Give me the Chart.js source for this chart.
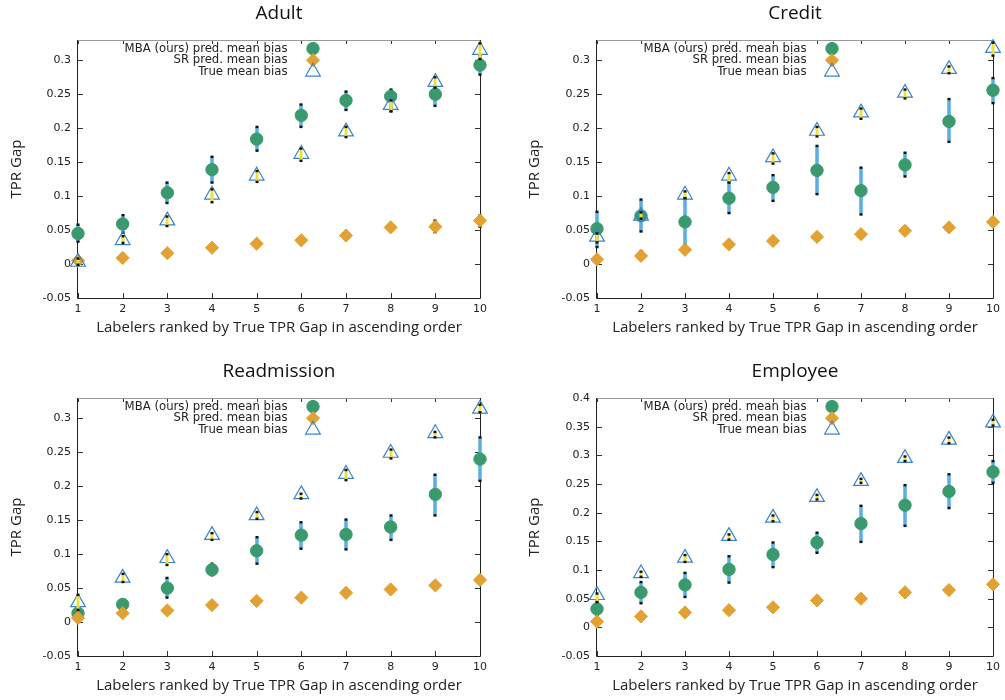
<!DOCTYPE html>
<html><head><meta charset="utf-8">
<script src="https://cdn.jsdelivr.net/npm/chart.js@4/dist/chart.umd.min.js"></script>
<style>
html,body{margin:0;padding:0;background:#fff;}
#wrap{position:relative;width:1005px;height:700px;overflow:hidden;background:#fff;}
.c{position:absolute;}
canvas{display:block;}
</style></head><body>
<div id="wrap">
<div class="c" style="left:0;top:0"><canvas id="c0" width="500" height="350"></canvas></div>
<div class="c" style="left:500px;top:0"><canvas id="c1" width="505" height="350"></canvas></div>
<div class="c" style="left:0;top:350px"><canvas id="c2" width="500" height="350"></canvas></div>
<div class="c" style="left:500px;top:350px"><canvas id="c3" width="505" height="350"></canvas></div>
</div>
<script>
// ---------------- data ----------------
const labelerRanks = [1, 2, 3, 4, 5, 6, 7, 8, 9, 10];
const yTicksLow = [-0.05, 0, 0.05, 0.1, 0.15, 0.2, 0.25, 0.3];
const yTicksHigh = [-0.05, 0, 0.05, 0.1, 0.15, 0.2, 0.25, 0.3, 0.35, 0.4];
const seriesNames = ['MBA (ours) pred. mean bias', 'SR pred. mean bias', 'True mean bias'];
const panelTitles = ['Adult', 'Credit', 'Readmission', 'Employee'];
const xAxisTitle = 'Labelers ranked by True TPR Gap in ascending order';
const yAxisTitle = 'TPR Gap';

// Adult
const mbaAdult   = [0.045, 0.059, 0.105, 0.139, 0.184, 0.219, 0.241, 0.247, 0.250, 0.293];
const mbaAdultLo = [0.033, 0.046, 0.090, 0.120, 0.167, 0.202, 0.227, 0.225, 0.233, 0.279];
const mbaAdultHi = [0.058, 0.072, 0.120, 0.158, 0.202, 0.235, 0.254, 0.257, 0.261, 0.308];
const srAdult    = [0.005, 0.009, 0.016, 0.024, 0.030, 0.035, 0.042, 0.054, 0.055, 0.064];
const srAdultLo  = [0.000, 0.006, 0.013, 0.021, 0.027, 0.032, 0.039, 0.051, 0.047, 0.055];
const srAdultHi  = [0.008, 0.015, 0.019, 0.027, 0.033, 0.038, 0.045, 0.057, 0.064, 0.072];
const trueAdult   = [0.003, 0.035, 0.064, 0.102, 0.130, 0.162, 0.195, 0.234, 0.268, 0.315];
const trueAdultLo = [-0.001, 0.031, 0.056, 0.091, 0.121, 0.152, 0.187, 0.225, 0.260, 0.302];
const trueAdultHi = [0.008, 0.041, 0.070, 0.110, 0.137, 0.170, 0.202, 0.241, 0.275, 0.325];

// Credit
const mbaCredit   = [0.052, 0.071, 0.062, 0.097, 0.113, 0.138, 0.108, 0.146, 0.210, 0.256];
const mbaCreditLo = [0.025, 0.048, 0.028, 0.075, 0.093, 0.103, 0.073, 0.129, 0.180, 0.237];
const mbaCreditHi = [0.077, 0.095, 0.098, 0.121, 0.131, 0.174, 0.142, 0.164, 0.243, 0.274];
const srCredit    = [0.007, 0.012, 0.021, 0.029, 0.034, 0.040, 0.044, 0.049, 0.054, 0.062];
const srCreditLo  = [0.004, 0.009, 0.018, 0.026, 0.031, 0.037, 0.041, 0.046, 0.051, 0.059];
const srCreditHi  = [0.010, 0.019, 0.024, 0.032, 0.037, 0.043, 0.047, 0.052, 0.057, 0.065];
const trueCredit   = [0.040, 0.071, 0.102, 0.130, 0.157, 0.196, 0.223, 0.252, 0.287, 0.318];
const trueCreditLo = [0.032, 0.067, 0.097, 0.120, 0.148, 0.188, 0.214, 0.244, 0.281, 0.307];
const trueCreditHi = [0.045, 0.076, 0.107, 0.134, 0.163, 0.202, 0.229, 0.257, 0.291, 0.326];

// Readmission
const mbaReadm   = [0.013, 0.026, 0.050, 0.077, 0.105, 0.128, 0.129, 0.140, 0.188, 0.240];
const mbaReadmLo = [0.004, 0.022, 0.036, 0.069, 0.086, 0.108, 0.107, 0.121, 0.157, 0.208];
const mbaReadmHi = [0.020, 0.030, 0.065, 0.086, 0.125, 0.147, 0.151, 0.157, 0.217, 0.272];
const srReadm    = [0.006, 0.013, 0.017, 0.025, 0.031, 0.036, 0.043, 0.048, 0.054, 0.062];
const srReadmLo  = [0.003, 0.010, 0.014, 0.022, 0.028, 0.033, 0.040, 0.045, 0.051, 0.059];
const srReadmHi  = [0.009, 0.016, 0.020, 0.028, 0.034, 0.039, 0.046, 0.051, 0.057, 0.065];
const trueReadm   = [0.029, 0.065, 0.094, 0.128, 0.157, 0.188, 0.218, 0.249, 0.278, 0.314];
const trueReadmLo = [0.018, 0.059, 0.084, 0.121, 0.152, 0.182, 0.209, 0.241, 0.272, 0.309];
const trueReadmHi = [0.040, 0.071, 0.100, 0.131, 0.162, 0.189, 0.224, 0.254, 0.280, 0.320];

// Employee
const mbaEmpl   = [0.032, 0.061, 0.074, 0.101, 0.127, 0.148, 0.181, 0.213, 0.237, 0.271];
const mbaEmplLo = [0.019, 0.042, 0.053, 0.078, 0.105, 0.130, 0.149, 0.177, 0.208, 0.252];
const mbaEmplHi = [0.045, 0.079, 0.095, 0.124, 0.148, 0.165, 0.212, 0.248, 0.267, 0.290];
const srEmpl    = [0.010, 0.019, 0.026, 0.030, 0.035, 0.047, 0.050, 0.061, 0.065, 0.075];
const srEmplLo  = [0.007, 0.016, 0.023, 0.027, 0.032, 0.044, 0.047, 0.058, 0.062, 0.072];
const srEmplHi  = [0.013, 0.022, 0.029, 0.033, 0.038, 0.050, 0.053, 0.064, 0.068, 0.078];
const trueEmpl   = [0.056, 0.094, 0.121, 0.159, 0.191, 0.227, 0.255, 0.295, 0.327, 0.357];
const trueEmplLo = [0.044, 0.088, 0.114, 0.153, 0.185, 0.223, 0.252, 0.290, 0.321, 0.352];
const trueEmplHi = [0.059, 0.097, 0.126, 0.162, 0.195, 0.231, 0.259, 0.298, 0.331, 0.362];

// ---------------- style ----------------
const GREEN = '#3a9a6e', ORANGE = '#e2a233', TRI = '#3b83c6', BARBLUE = '#5aaee2', YELLOW = '#eee040';
const TEXT = '#222';
const FONT_TXT = '"Open Sans", "Noto Sans", sans-serif';
const FONT_TICK = '"DejaVu Sans", sans-serif';

const panels = [
  {id:'c0', W:500, H:350, L:78, R:480, T:40, B:298, yMax:0.33, yTicks:yTicksLow, title:panelTitles[0],
   mba:[mbaAdult,mbaAdultLo,mbaAdultHi], sr:[srAdult,srAdultLo,srAdultHi], tru:[trueAdult,trueAdultLo,trueAdultHi]},
  {id:'c1', W:505, H:350, L:97, R:497, T:40, B:298, yMax:0.33, yTicks:yTicksLow, title:panelTitles[1],
   mba:[mbaCredit,mbaCreditLo,mbaCreditHi], sr:[srCredit,srCreditLo,srCreditHi], tru:[trueCredit,trueCreditLo,trueCreditHi]},
  {id:'c2', W:500, H:350, L:78, R:480, T:48, B:306, yMax:0.33, yTicks:yTicksLow, title:panelTitles[2],
   mba:[mbaReadm,mbaReadmLo,mbaReadmHi], sr:[srReadm,srReadmLo,srReadmHi], tru:[trueReadm,trueReadmLo,trueReadmHi]},
  {id:'c3', W:505, H:350, L:97, R:497, T:48, B:306, yMax:0.4, yTicks:yTicksHigh, title:panelTitles[3],
   mba:[mbaEmpl,mbaEmplLo,mbaEmplHi], sr:[srEmpl,srEmplLo,srEmplHi], tru:[trueEmpl,trueEmplLo,trueEmplHi]},
];

const pts = vals => labelerRanks.map((x, i) => ({x: x, y: vals[i]}));

// error bars per dataset
const errorBarPlugin = {
  id: 'errBars',
  beforeDatasetDraw(chart, args) { drawErr(chart, args, false); },
  afterDatasetDraw(chart, args) { drawErr(chart, args, true); }
};
function drawErr(chart, args, onTop) {
  const ds = chart.data.datasets[args.index];
  if (!ds.errLo || !!ds.errOnTop !== onTop) return;
  const ctx = chart.ctx, ys = chart.scales.y, meta = args.meta;
  ctx.save();
  ctx.lineCap = 'butt';
  meta.data.forEach((el, j) => {
    const x = Math.round(el.x);
    const yl = ys.getPixelForValue(ds.errLo[j]);
    const yh = ys.getPixelForValue(ds.errHi[j]);
    ctx.strokeStyle = ds.errColor;
    ctx.lineWidth = ds.errWidth;
    ctx.beginPath(); ctx.moveTo(x, yl); ctx.lineTo(x, yh); ctx.stroke();
    ctx.fillStyle = '#111';
    ctx.fillRect(x - 1.5, yh - 1.2, 3, 2.4);
    ctx.fillRect(x - 1.5, yl - 1.2, 3, 2.4);
  });
  ctx.restore();
}

// gnuplot-like frame with inward mirrored tics
const framePlugin = {
  id: 'frame',
  beforeDatasetsDraw(chart) {
    const a = chart.chartArea, ctx = chart.ctx;
    const xs = chart.scales.x, ys = chart.scales.y;
    ctx.save();
    ctx.lineWidth = 1;
    ctx.strokeStyle = '#333';
    ys.ticks.forEach(t => {
      const y = Math.round(ys.getPixelForValue(t.value)) + 0.5;
      ctx.beginPath(); ctx.moveTo(a.left, y); ctx.lineTo(a.left + 5, y);
      ctx.moveTo(a.right, y); ctx.lineTo(a.right - 5, y); ctx.stroke();
    });
    xs.ticks.forEach(t => {
      const x = Math.round(xs.getPixelForValue(t.value)) + 0.5;
      ctx.beginPath(); ctx.moveTo(x, a.bottom); ctx.lineTo(x, a.bottom - 5);
      ctx.moveTo(x, a.top); ctx.lineTo(x, a.top + 4); ctx.stroke();
    });
    ctx.strokeStyle = '#999';
    ctx.beginPath(); ctx.moveTo(a.left, a.top + 0.5); ctx.lineTo(a.right, a.top + 0.5); ctx.stroke();
    ctx.strokeStyle = '#222';
    ctx.beginPath();
    ctx.moveTo(a.right + 0.5, a.top); ctx.lineTo(a.right + 0.5, a.bottom + 0.5);
    ctx.lineTo(a.left - 0.5, a.bottom + 0.5); ctx.lineTo(a.left - 0.5, a.top);
    ctx.stroke();
    ctx.restore();
  }
};

// title centred over the plot area
const titlePlugin = {
  id: 'panelTitle',
  afterDraw(chart, args, opts) {
    const a = chart.chartArea, ctx = chart.ctx;
    ctx.save();
    ctx.font = '19px ' + FONT_TXT;
    ctx.fillStyle = '#111';
    ctx.textAlign = 'center';
    ctx.textBaseline = 'alphabetic';
    ctx.fillText(opts.text, (a.left + a.right) / 2, a.top - 21.5);
    ctx.restore();
  }
};

// key inside the plot: text right-aligned, symbol to its right
const keyPlugin = {
  id: 'gpKey',
  afterDatasetsDraw(chart) {
    const a = chart.chartArea, ctx = chart.ctx;
    ctx.save();
    ctx.font = '11.7px ' + FONT_TICK;
    ctx.textAlign = 'right';
    ctx.textBaseline = 'middle';
    chart.data.datasets.forEach((ds, i) => {
      const y = a.top + 8.6 + i * 11.6;
      ctx.fillStyle = TEXT;
      ctx.fillText(ds.label, a.left + 209.5, y);
      ctx.fillStyle = ds.backgroundColor;
      ctx.strokeStyle = ds.borderColor;
      ctx.lineWidth = ds.pointBorderWidth;
      Chart.helpers.drawPoint(ctx, {pointStyle: ds.pointStyle, radius: ds.pointRadius, borderWidth: ds.pointBorderWidth, rotation: 0}, a.left + 235, y);
    });
    ctx.restore();
  }
};

panels.forEach((p, k) => {
  const leftCol = (p.L < 90);
  const topRow = (p.T < 45);
  new Chart(document.getElementById(p.id), {
    type: 'scatter',
    data: {
      datasets: [
        {label: seriesNames[0], data: pts(p.mba[0]), errLo: p.mba[1], errHi: p.mba[2], errColor: BARBLUE, errWidth: 3.5, errOnTop: false,
         pointStyle: 'circle', pointRadius: 6.2, pointBorderWidth: 1, backgroundColor: GREEN, borderColor: GREEN, order: 3, clip: false},
        {label: seriesNames[1], data: pts(p.sr[0]), errLo: p.sr[1], errHi: p.sr[2], errColor: ORANGE, errWidth: 3, errOnTop: false,
         pointStyle: 'rectRot', pointRadius: 6.6, pointBorderWidth: 1, backgroundColor: ORANGE, borderColor: ORANGE, order: 2, clip: false},
        {label: seriesNames[2], data: pts(p.tru[0]), errLo: p.tru[1], errHi: p.tru[2], errColor: YELLOW, errWidth: 3, errOnTop: true,
         pointStyle: 'triangle', pointRadius: 8.5, pointBorderWidth: 1.2, backgroundColor: 'rgba(255,255,255,0)', borderColor: TRI, order: 1, clip: false}
      ]
    },
    options: {
      responsive: false,
      animation: false,
      devicePixelRatio: 1,
      events: [],
      layout: {padding: {left: 0, top: p.T, right: p.W - p.R, bottom: 0}},
      plugins: {
        legend: {display: false},
        tooltip: {enabled: false},
        title: {display: false},
        panelTitle: {text: p.title}
      },
      scales: {
        x: {
          type: 'linear', min: 1, max: 10,
          afterBuildTicks: s => { s.ticks = labelerRanks.map(v => ({value: v})); },
          afterFit: s => { s.height = p.H - p.B; },
          grid: {display: false, drawTicks: false},
          border: {display: false},
          ticks: {padding: 5, color: TEXT, font: {family: FONT_TICK, size: 11}, callback: v => String(v), maxRotation: 0},
          title: {display: true, text: xAxisTitle, color: TEXT, font: {family: FONT_TXT, size: 15}, padding: {top: 0, bottom: topRow ? 13 : 5}}
        },
        y: {
          type: 'linear', min: -0.05, max: p.yMax,
          afterBuildTicks: s => { s.ticks = p.yTicks.map(v => ({value: v})); },
          afterFit: s => { s.width = p.L; },
          grid: {display: false, drawTicks: false},
          border: {display: false},
          ticks: {padding: 7, color: TEXT, font: {family: FONT_TICK, size: 11}, callback: v => String(+v.toFixed(2))},
          title: {display: true, text: yAxisTitle, color: TEXT, font: {family: FONT_TXT, size: 15}, padding: {top: leftCol ? 8 : 26, bottom: 0}}
        }
      }
    },
    plugins: [framePlugin, errorBarPlugin, keyPlugin, titlePlugin]
  });
});
</script>
</body></html>
